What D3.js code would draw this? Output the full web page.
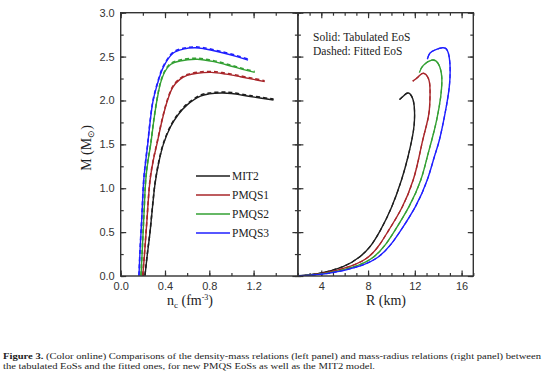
<!DOCTYPE html>
<meta charset="utf-8">
<style>
    body { margin: 0; background: #fff; }
    svg { font-family: "Liberation Serif", "Times New Roman", serif; }
    .frame { fill: none; stroke: #333; stroke-width: 1.4px; }
    .tick line { stroke: #333; stroke-width: 1.2px; }
    .tick text { font-size: 11px; fill: #333; }
    .domain { display: none; }
    .curve { fill: none; stroke-width: 1.4px; }
    .fit { fill: none; stroke-width: 1.6px; stroke-dasharray: 4 3; }
    .title { font-size: 14px; fill: #222; }
    .legend text, .note { font-size: 11.5px; fill: #222; }
    .caption { font-size: 8.6px; fill: #222; }
</style>
<svg width="559" height="373"></svg>
<script src="https://cdn.jsdelivr.net/npm/d3@7"></script>
<script>

    // central density (fm^-3) vs mass (Msun)
    var mit2NcM  = [[0.219,0],[0.24,0.24],[0.265,0.5],[0.29,0.82],[0.31,1.05],[0.345,1.3],[0.385,1.5],[0.45,1.7],[0.52,1.84],[0.6,1.95],[0.72,2.05],[0.8,2.075],[0.91,2.085],[1.0,2.08],[1.17,2.045],[1.38,2.005]];
    var pmqs1NcM = [[0.199,0],[0.215,0.25],[0.235,0.6],[0.265,1.09],[0.295,1.32],[0.33,1.52],[0.375,1.78],[0.42,1.99],[0.47,2.15],[0.535,2.24],[0.6,2.285],[0.69,2.31],[0.82,2.32],[0.95,2.30],[1.08,2.27],[1.2,2.24],[1.30,2.215]];
    var pmqs2NcM = [[0.183,0],[0.195,0.3],[0.21,0.7],[0.226,1.09],[0.245,1.3],[0.271,1.5],[0.30,1.78],[0.33,2.02],[0.36,2.2],[0.40,2.33],[0.45,2.41],[0.535,2.45],[0.69,2.47],[0.85,2.44],[1.0,2.39],[1.1,2.355],[1.21,2.32]];
    var pmqs3NcM = [[0.165,0],[0.175,0.3],[0.19,0.65],[0.208,1.09],[0.225,1.3],[0.244,1.5],[0.265,1.75],[0.29,1.98],[0.325,2.16],[0.385,2.38],[0.475,2.54],[0.565,2.585],[0.67,2.60],[0.75,2.59],[0.9,2.55],[1.05,2.50],[1.15,2.46]];

    // radius (km) vs mass (Msun)
    var mit2RM  = [[2,0.002],[3.8,0.03],[5.9,0.11],[7.3,0.22],[8.2,0.34],[9.05,0.52],[10.0,0.78],[10.85,1.09],[11.4,1.35],[11.74,1.55],[11.94,1.72],[11.97,1.89],[11.82,2.02],[11.46,2.085],[11.1,2.06],[10.69,2.01]];
    var pmqs1RM = [[2,0.002],[4.1,0.03],[6.45,0.11],[8.05,0.22],[9.0,0.36],[9.76,0.52],[10.9,0.78],[11.85,1.09],[12.35,1.35],[12.68,1.55],[13.0,1.72],[13.24,1.89],[13.3,2.12],[13.16,2.25],[12.73,2.31],[12.3,2.27],[11.82,2.22]];
    var pmqs2RM = [[2,0.002],[4.4,0.03],[6.9,0.11],[8.5,0.22],[9.5,0.36],[10.3,0.52],[11.5,0.79],[12.5,1.09],[13.05,1.35],[13.45,1.55],[13.87,1.78],[14.21,2.04],[14.3,2.27],[14.0,2.42],[13.45,2.46],[12.73,2.40],[12.39,2.32]];
    var pmqs3RM = [[2,0.002],[4.6,0.03],[7.2,0.11],[8.9,0.22],[9.95,0.36],[10.8,0.52],[12.05,0.79],[13.05,1.09],[13.65,1.35],[14.1,1.55],[14.58,1.85],[14.95,2.16],[15.0,2.42],[14.78,2.57],[14.38,2.60],[13.8,2.58],[13.3,2.54],[13.07,2.47]];

    var names  = ["MIT2", "PMQS1", "PMQS2", "PMQS3"];
    var colors = ["#1e1e1e", "#a8262a", "#33a033", "#1f1fff"];
    var ncSets = [mit2NcM, pmqs1NcM, pmqs2NcM, pmqs3NcM];
    var rSets  = [mit2RM, pmqs1RM, pmqs2RM, pmqs3RM];

    var mTicks  = [0, 0.5, 1.0, 1.5, 2.0, 2.5, 3.0];
    var ncTicks = [0, 0.4, 0.8, 1.2];
    var rTicks  = [4, 8, 12, 16];

    var svg = d3.select("svg");
    var yTop = 12.7, yBot = 276, xl = 120.7, xm = 297.9, xr = 473.3;

    var y  = d3.scaleLinear().domain([0, 3]).range([yBot, yTop]);
    var xn = d3.scaleLinear().domain([0, 1.6]).range([xl, xm]);
    var xR = d3.scaleLinear().domain([2, 17]).range([xm, xr]);

    var defs = svg.append("defs");
    defs.append("clipPath").attr("id", "clipL").append("rect")
        .attr("x", xl).attr("y", yTop).attr("width", xm - xl).attr("height", yBot - yTop);
    defs.append("clipPath").attr("id", "clipR").append("rect")
        .attr("x", xm).attr("y", yTop).attr("width", xr - xm).attr("height", yBot - yTop);

    function minor(a, b, step) {
        return d3.range(a, b + step / 2, step);
    }

    // ticks, all pointing inwards
    function ticks(axis, pos, transform, values, len, labels) {
        return svg.append("g").attr("transform", transform)
            .call(axis(pos).tickValues(values).tickSizeInner(-len).tickSizeOuter(0)
                .tickPadding(labels ? 6 : 0)
                .tickFormat(labels ? labels : ""));
    }

    var fmt1 = d3.format(".1f"), fmt0 = d3.format("d");

    // left panel
    ticks(d3.axisLeft, y, "translate(" + xl + ",0)", minor(0, 3, 0.25), 3);
    ticks(d3.axisLeft, y, "translate(" + xl + ",0)", mTicks, 5.5, fmt1);
    ticks(d3.axisRight, y, "translate(" + xm + ",0)", minor(0, 3, 0.25), 3);
    ticks(d3.axisRight, y, "translate(" + xm + ",0)", mTicks, 5.5);
    ticks(d3.axisBottom, xn, "translate(0," + yBot + ")", minor(0, 1.6, 0.2), 3);
    ticks(d3.axisBottom, xn, "translate(0," + yBot + ")", ncTicks, 5.5, fmt1);
    ticks(d3.axisTop, xn, "translate(0," + yTop + ")", minor(0, 1.6, 0.2), 3);
    ticks(d3.axisTop, xn, "translate(0," + yTop + ")", ncTicks, 5.5);

    // right panel
    ticks(d3.axisLeft, y, "translate(" + xm + ",0)", minor(0, 3, 0.25), 3);
    ticks(d3.axisLeft, y, "translate(" + xm + ",0)", mTicks, 5.5);
    ticks(d3.axisRight, y, "translate(" + xr + ",0)", minor(0, 3, 0.25), 3);
    ticks(d3.axisRight, y, "translate(" + xr + ",0)", mTicks, 5.5);
    ticks(d3.axisBottom, xR, "translate(0," + yBot + ")", minor(2, 17, 1), 3);
    ticks(d3.axisBottom, xR, "translate(0," + yBot + ")", rTicks, 5.5, fmt0);
    ticks(d3.axisTop, xR, "translate(0," + yTop + ")", minor(2, 17, 1), 3);
    ticks(d3.axisTop, xR, "translate(0," + yTop + ")", rTicks, 5.5);

    svg.selectAll(".tick text").attr("fill", "#333");

    var lineL = d3.line().curve(d3.curveCatmullRom).x(function(d) { return xn(d[0]); }).y(function(d) { return y(d[1]); });
    var lineR = d3.line().curve(d3.curveNatural).x(function(d) { return xR(d[0]); }).y(function(d) { return y(d[1]); });

    var gl = svg.append("g").attr("clip-path", "url(#clipL)");
    var gr = svg.append("g").attr("clip-path", "url(#clipR)");

    names.forEach(function(n, i) {
        gl.append("path").attr("class", "curve").attr("d", lineL(ncSets[i])).style("stroke", colors[i]);
        gl.append("path").attr("class", "fit").attr("d", lineL(ncSets[i]))
            .attr("transform", "translate(0,-0.9)").style("stroke", colors[i]);
        gr.append("path").attr("class", "curve").attr("d", lineR(rSets[i])).style("stroke", colors[i]);
        gr.append("path").attr("class", "fit").attr("d", lineR(rSets[i]))
            .style("stroke", colors[i]).style("stroke-width", "1.2px");
    });

    // frames
    svg.append("rect").attr("class", "frame").attr("x", xl).attr("y", yTop).attr("width", xm - xl).attr("height", yBot - yTop);
    svg.append("rect").attr("class", "frame").attr("x", xm).attr("y", yTop).attr("width", xr - xm).attr("height", yBot - yTop);

    // legend
    var lg = svg.append("g").attr("class", "legend");
    names.forEach(function(n, i) {
        var ly = 176 + i * 19;
        lg.append("line").attr("x1", 196).attr("x2", 230).attr("y1", ly).attr("y2", ly)
            .style("stroke", colors[i]).style("stroke-width", 1.5);
        lg.append("text").attr("x", 232).attr("y", ly).attr("dy", "0.35em").text(n);
    });

    svg.append("text").attr("class", "note").attr("x", 313).attr("y", 41).text("Solid: Tabulated EoS");
    svg.append("text").attr("class", "note").attr("x", 313).attr("y", 55).text("Dashed: Fitted EoS");

    // axis titles
    var yt = svg.append("text").attr("class", "title")
        .attr("transform", "translate(91,148) rotate(-90)")
        .attr("text-anchor", "middle");
    yt.append("tspan").text("M (M");
    yt.append("tspan").attr("font-size", "9px").attr("dy", 3).text("\u2299");
    yt.append("tspan").attr("dy", -3).text(")");

    var xt = svg.append("text").attr("class", "title").attr("x", 190).attr("y", 305).attr("text-anchor", "middle");
    xt.append("tspan").text("n");
    xt.append("tspan").attr("font-size", "9px").attr("dy", 3).text("c");
    xt.append("tspan").attr("dy", -3).text(" (fm");
    xt.append("tspan").attr("font-size", "8px").attr("dy", -5).text("-3");
    xt.append("tspan").attr("dy", 5).text(")");

    svg.append("text").attr("class", "title").attr("x", 386).attr("y", 305).attr("text-anchor", "middle").text("R (km)");

    // caption
    var c1 = svg.append("text").attr("class", "caption").attr("x", 3).attr("y", 359)
        .attr("textLength", 538).attr("lengthAdjust", "spacingAndGlyphs");
    c1.append("tspan").attr("font-weight", "bold").text("Figure 3.");
    c1.append("tspan").text(" (Color online) Comparisons of the density-mass relations (left panel) and mass-radius relations (right panel) between");
    svg.append("text").attr("class", "caption").attr("x", 3).attr("y", 369)
        .attr("textLength", 372).attr("lengthAdjust", "spacingAndGlyphs")
        .text("the tabulated EoSs and the fitted ones, for new PMQS EoSs as well as the MIT2 model.");

</script>
